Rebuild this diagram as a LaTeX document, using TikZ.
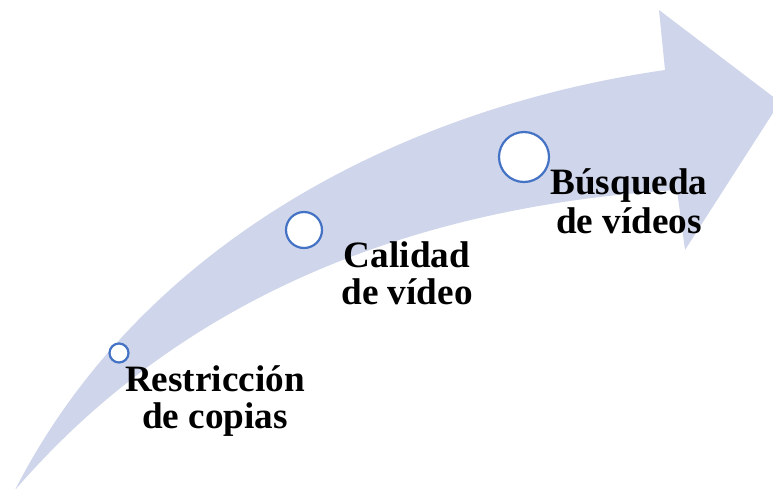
\documentclass[tikz,border=0pt]{standalone}
\usepackage{fontspec}
\setmainfont{Liberation Serif}
\definecolor{arrowfill}{HTML}{CFD5EA}
\definecolor{ringblue}{HTML}{4472C4}
\tikzset{
  ring/.style={circle, draw=ringblue, line width=2.2pt, fill=white, inner sep=0pt},
  lbl/.style={align=center, inner sep=0pt, font=\bfseries\fontsize{37.2}{37}\selectfont}
}
\begin{document}
\begin{tikzpicture}[x=1pt,y=-1pt]
\useasboundingbox (0,0) rectangle (773,488);
\clip (0,0) rectangle (773,488);
% curved arrow
\fill[arrowfill] (15,490)
  .. controls (140,245) and (400,108) .. (665,70)
  -- (659,10) -- (780,102) -- (685,250) -- (677,190)
  .. controls (400,207) and (175,305) .. (15,490) -- cycle;
% rings
\node[ring, minimum size=19pt] (c1) at (119,353) {};
\node[ring, minimum size=36pt] (c2) at (304,230) {};
\node[ring, minimum size=50pt] (c3) at (524,157) {};
% labels (base anchor = baseline of the last line)
\node[lbl, anchor=base] (t1) at (215,428) {Restricción\\de copias};
\node[lbl, anchor=base] (t2) at (407,304) {Calidad\\de vídeo};
\node[lbl, anchor=base] (t3) at (629,233) {Búsqueda\\[2pt]de vídeos};
\end{tikzpicture}
\end{document}
